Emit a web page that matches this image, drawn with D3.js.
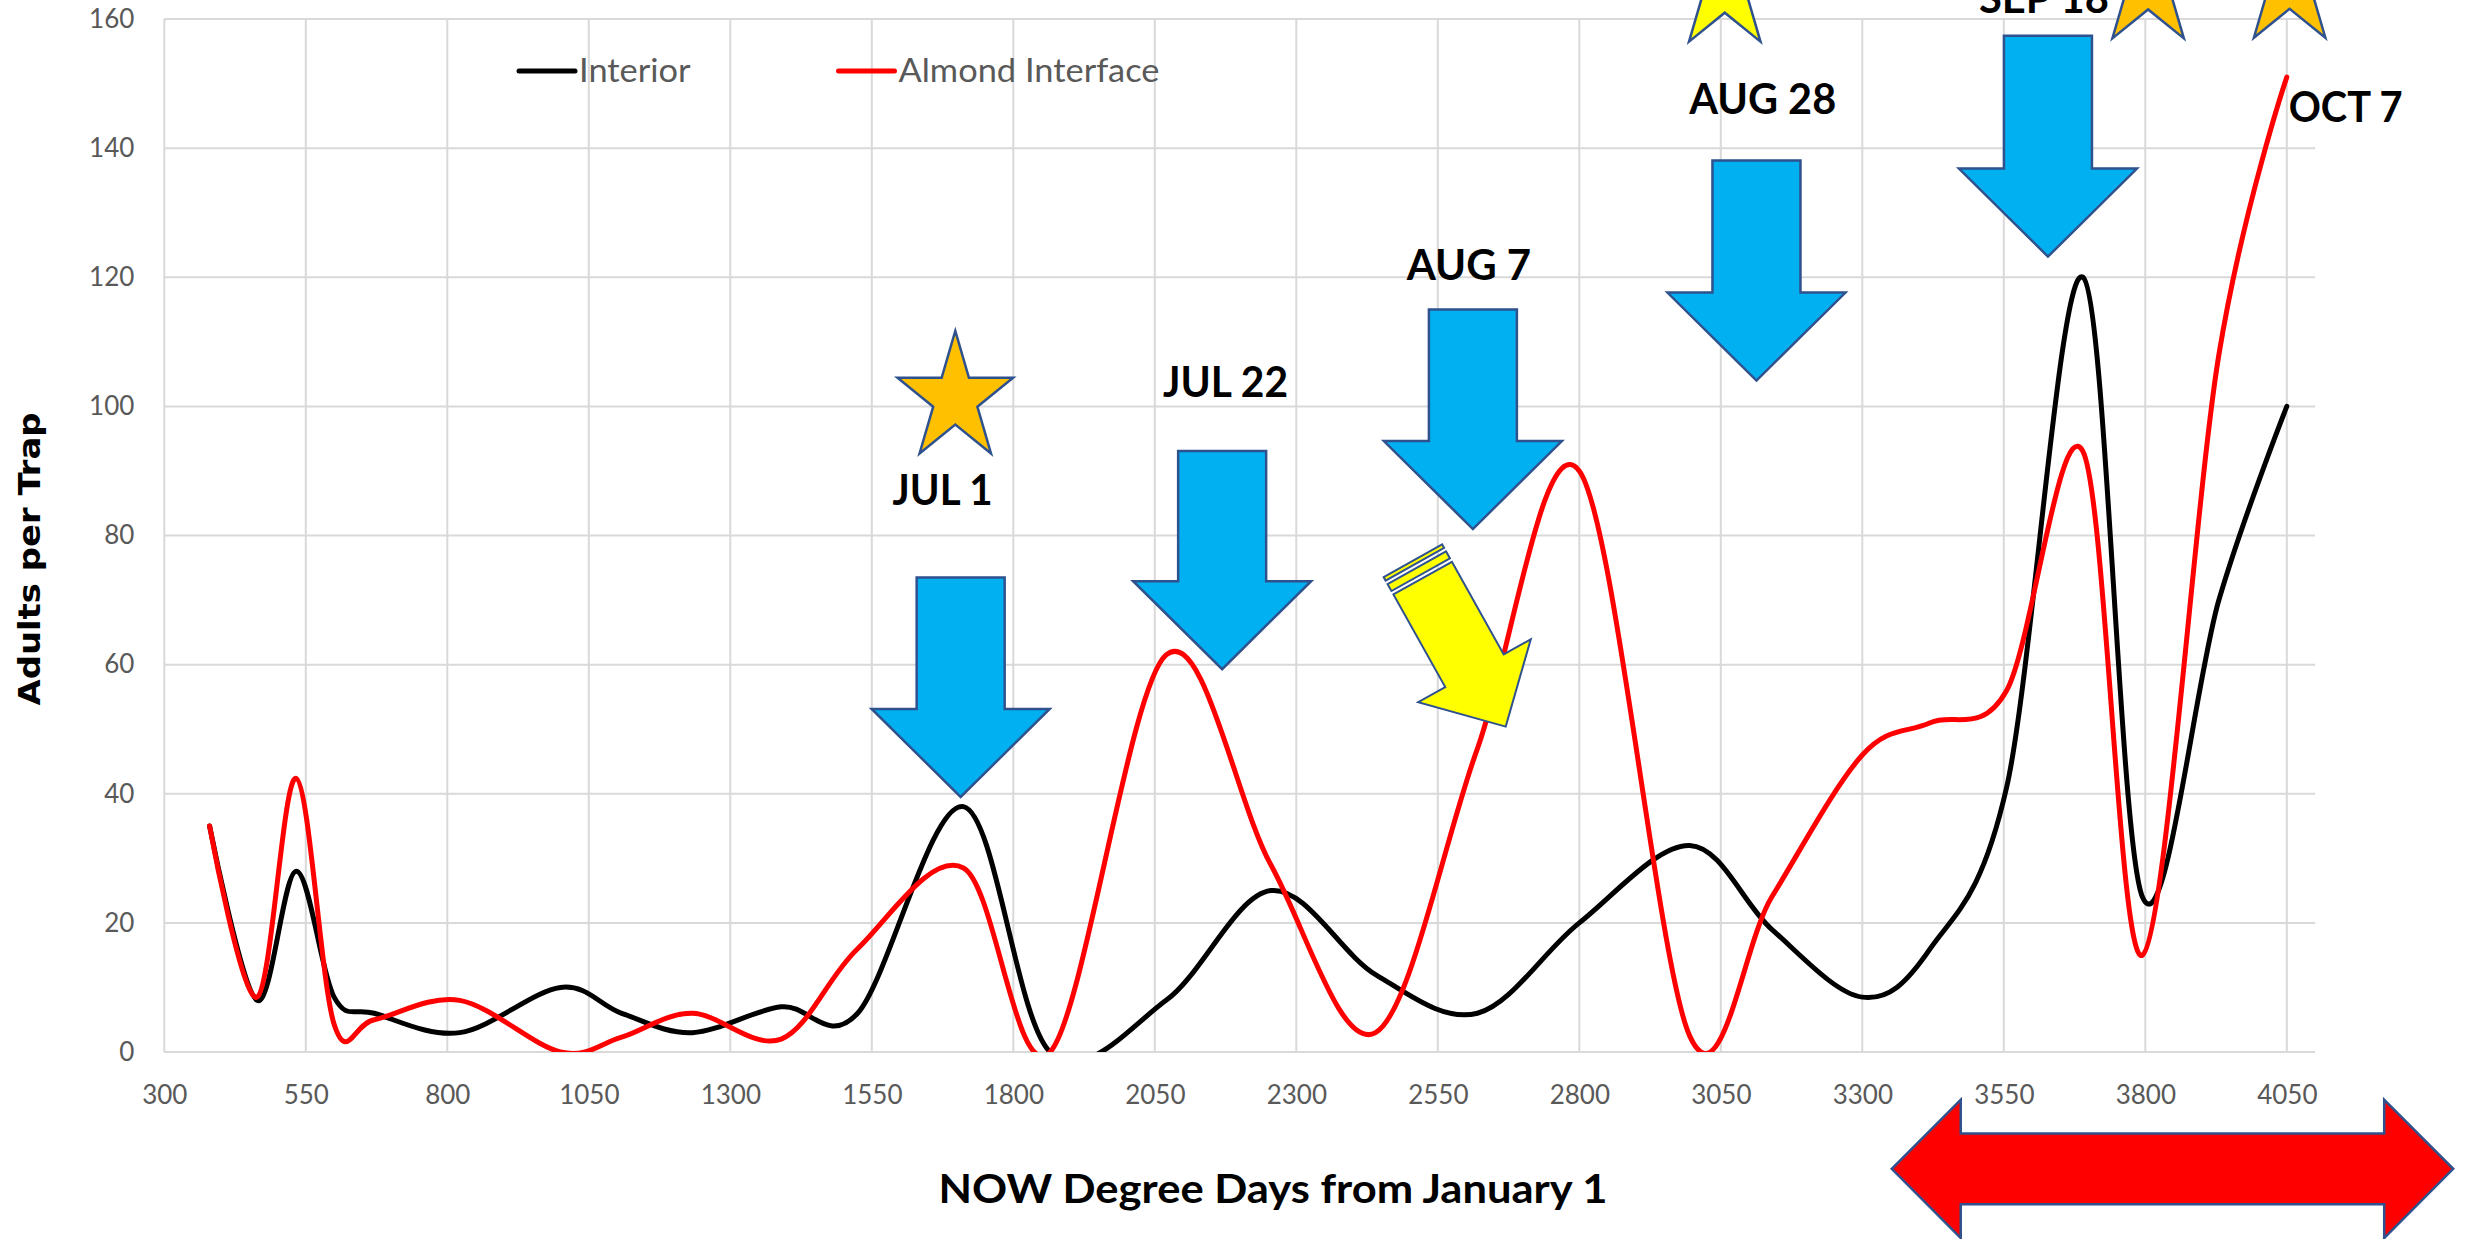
<!DOCTYPE html>
<html><head><meta charset="utf-8">
<script src="https://cdn.jsdelivr.net/npm/d3@7"></script>
<style>html,body{margin:0;padding:0;background:#fff;}svg{display:block;}</style>
</head><body>
<svg id="chart" width="2468" height="1239"></svg>
<script>
// ---------------- data ----------------
const xTicks = [300,550,800,1050,1300,1550,1800,2050,2300,2550,2800,3050,3300,3550,3800,4050];
const yTicks = [0,20,40,60,80,100,120,140,160];
const degreeDays      = [380,464,533,600,671,822,1000,1108,1233,1390,1525,1712,1865,2070,2255,2440,2620,2800,2995,3140,3300,3420,3555,3690,3795,3930,4050];
const interior        = [35, 8, 28, 8.5, 6, 3, 10, 6, 3, 7, 6, 38, 0, 8, 25, 12, 6, 20, 32, 19, 8.5, 16, 41, 120, 24, 70, 100];
const almondInterface = [35, 8.5, 42.4, 4.3, 5, 8, 0, 2.3, 6, 2, 16, 28.5, 0, 61.5, 29, 3, 47, 90, 2.5, 24, 46, 51, 56, 93, 15, 108, 151];
const seriesNames = ["Interior","Almond Interface"];
const xTitle = "NOW Degree Days from January 1";
const yTitle = "Adults per Trap";
// annotation anchors (in chart units: degree days / adults per trap)
const eventLabels  = ["JUL 1","JUL 22","AUG 7","AUG 28","SEP 18","OCT 7"];
const eventLabelX  = [1675, 2175, 2605, 3124, 3621, 4154];
const eventLabelY  = [84.7, 101.5, 119.5, 145.3, 160.9, 144.0];
const blueArrowX   = [1707, 2169, 2612, 3113, 3628];
const blueArrowTop = [73.5, 93.1, 115.0, 138.1, 157.4];
const blueArrowTip = [39.5, 59.3, 81.0, 104.0, 123.2];
const starX        = [1697.5, 3057, 3805, 4055];
const starBottom   = [92.7, 156.5, 157.0, 157.1];
const starColor    = ["#ffc000","#ffff00","#ffc000","#ffc000"];
const yellowArrowTail = [2506, 76.1];
const yellowArrowTip  = [2670, 50.4];
const redArrowX = [3352, 4344];
const redArrowY = -18.1;

// ---------------- layout ----------------
const svg = d3.select("#chart");
const x = d3.scaleLinear().domain([300,4100]).range([164.3, 2315.1]);
const y = d3.scaleLinear().domain([0,160]).range([1052, 19]);
const gridColor = "#d9d9d9";
const textGrey = "#595959";
const outline = "#2f528f";

function fit(sel, w){ sel.attr("textLength", w).attr("lengthAdjust","spacingAndGlyphs"); return sel; }

// gridlines
svg.append("g").selectAll("line").data(yTicks).join("line")
  .attr("x1", x(300)).attr("x2", x(4100))
  .attr("y1", d=>y(d)).attr("y2", d=>y(d))
  .attr("stroke", gridColor).attr("stroke-width", 2);
svg.append("g").selectAll("line").data(xTicks).join("line")
  .attr("x1", d=>x(d)).attr("x2", d=>x(d))
  .attr("y1", y(0)).attr("y2", y(160))
  .attr("stroke", gridColor).attr("stroke-width", 2);

// axes
const xAxis = svg.append("g").attr("transform",`translate(0,${y(0)})`)
  .call(d3.axisBottom(x).tickValues(xTicks).tickSize(0).tickPadding(34).tickFormat(d3.format("d")));
xAxis.select(".domain").remove();
xAxis.selectAll("text").attr("font-family","Lato, 'Open Sans', sans-serif").attr("font-size",26)
  .attr("fill",textGrey).attr("dy","0.71em");
const yAxis = svg.append("g").attr("transform",`translate(${x(300)},0)`)
  .call(d3.axisLeft(y).tickValues(yTicks).tickSize(0).tickPadding(30).tickFormat(d3.format("d")));
yAxis.select(".domain").remove();
yAxis.selectAll("text").attr("font-family","Lato, 'Open Sans', sans-serif").attr("font-size",26)
  .attr("fill",textGrey);

// axis titles
fit(svg.append("text").attr("x", 1273).attr("y", 1203).attr("text-anchor","middle")
  .attr("font-family","Lato, sans-serif").attr("font-weight","bold").attr("font-size",40)
  .attr("fill","#000").text(xTitle), 669);
fit(svg.append("text").attr("transform","translate(40,559) rotate(-90)").attr("text-anchor","middle")
  .attr("font-family","'DejaVu Sans', Verdana, sans-serif").attr("font-weight","bold").attr("font-size",31)
  .attr("fill","#000").text(yTitle), 293);

// series
svg.append("clipPath").attr("id","plotclip").append("rect")
  .attr("x", x(300)).attr("y", y(160)).attr("width", x(4100)-x(300)).attr("height", y(0)-y(160));
const line = d3.line().curve(d3.curveCardinal.tension(0)).x(d=>x(d[0])).y(d=>y(d[1]));
const series = [
  {name: seriesNames[0], values: interior, color: "#000000"},
  {name: seriesNames[1], values: almondInterface, color: "#ff0000"}
];
svg.append("g").attr("clip-path","url(#plotclip)").selectAll("path").data(series).join("path")
  .attr("d", s => line(degreeDays.map((dd,i)=>[dd, s.values[i]])))
  .attr("fill","none").attr("stroke", s=>s.color).attr("stroke-width",5)
  .attr("stroke-linejoin","round").attr("stroke-linecap","round");

// legend
const legendX = [519, 838.5];
const legendW = [111.6, 261];
series.forEach((s,i)=>{
  svg.append("line").attr("x1",legendX[i]).attr("x2",legendX[i]+56).attr("y1",71).attr("y2",71)
    .attr("stroke",s.color).attr("stroke-width",5).attr("stroke-linecap","round");
  fit(svg.append("text").attr("x",legendX[i]+60).attr("y",82.3)
    .attr("font-family","Lato, sans-serif").attr("font-size",33).attr("fill",textGrey).text(s.name), legendW[i]);
});

// ---------------- annotations ----------------
// blue down arrows
const shaftHalf = 44, headHalf = 89, headLen = 88;
blueArrowX.forEach((v,i)=>{
  const cx = x(v), t = y(blueArrowTop[i]), tip = y(blueArrowTip[i]), sh = tip - headLen;
  const pts = [[cx-shaftHalf,t],[cx+shaftHalf,t],[cx+shaftHalf,sh],[cx+headHalf,sh],[cx,tip],[cx-headHalf,sh],[cx-shaftHalf,sh]];
  svg.append("path").attr("d","M"+pts.map(p=>p.join(",")).join("L")+"Z")
    .attr("fill","#00b0f0").attr("stroke",outline).attr("stroke-width",2.5).attr("stroke-linejoin","miter");
});

// stars
const starW = 115.6, starH = 122.6;
function starPath(cx, bottom){
  const R = 1, r = 0.382;
  const pts = [];
  for(let k=0;k<10;k++){
    const a = -Math.PI/2 + k*Math.PI/5;
    const rr = k%2===0 ? R : r;
    pts.push([rr*Math.cos(a), rr*Math.sin(a)]);
  }
  const xmax = Math.cos(Math.PI/10), ymin = -1, ymax = Math.cos(Math.PI/5);
  const sx = starW/(2*xmax), sy = starH/(ymax-ymin);
  const top = bottom - starH;
  return "M"+pts.map(p=>[cx + p[0]*sx, top + (p[1]-ymin)*sy].join(",")).join("L")+"Z";
}
starX.forEach((v,i)=>{
  svg.append("path").attr("d", starPath(x(v), y(starBottom[i])))
    .attr("fill", starColor[i]).attr("stroke", outline).attr("stroke-width",2.5);
});

// yellow striped arrow
(function(){
  const x0 = x(yellowArrowTail[0]), y0 = y(yellowArrowTail[1]);
  const x1 = x(yellowArrowTip[0]), y1 = y(yellowArrowTip[1]);
  const L = Math.hypot(x1-x0, y1-y0);
  const ang = Math.atan2(y1-y0, x1-x0)*180/Math.PI;
  const hh = 64.5, sh = 33.5, hl = 64;
  const g = svg.append("g").attr("transform",`translate(${x0},${y0}) rotate(${ang})`);
  const fill = "#ffff00";
  g.append("rect").attr("x",0).attr("y",-sh).attr("width",4).attr("height",2*sh).attr("fill",fill).attr("stroke",outline).attr("stroke-width",2);
  g.append("rect").attr("x",8).attr("y",-sh).attr("width",8).attr("height",2*sh).attr("fill",fill).attr("stroke",outline).attr("stroke-width",2);
  const pts = [[20,-sh],[L-hl,-sh],[L-hl,-hh],[L,0],[L-hl,hh],[L-hl,sh],[20,sh]];
  g.append("path").attr("d","M"+pts.map(p=>p.join(",")).join("L")+"Z")
    .attr("fill",fill).attr("stroke",outline).attr("stroke-width",2);
})();

// red double arrow
(function(){
  const xl = x(redArrowX[0]), xr = x(redArrowX[1]), cy = y(redArrowY);
  const hh = 69.2, sh = 35.4, hl = 69;
  const pts = [[xl,cy],[xl+hl,cy-hh],[xl+hl,cy-sh],[xr-hl,cy-sh],[xr-hl,cy-hh],[xr,cy],[xr-hl,cy+hh],[xr-hl,cy+sh],[xl+hl,cy+sh],[xl+hl,cy+hh]];
  svg.append("path").attr("d","M"+pts.map(p=>p.join(",")).join("L")+"Z")
    .attr("fill","#ff0000").attr("stroke",outline).attr("stroke-width",2.5);
})();

// event labels
const labelW = [100, 125, 124.5, 147, 130, 114];
eventLabels.forEach((t,i)=>{
  fit(svg.append("text").attr("x", x(eventLabelX[i])).attr("y", y(eventLabelY[i])).attr("text-anchor","middle")
    .attr("font-family","Lato, sans-serif").attr("font-weight","bold").attr("font-size",42)
    .attr("fill","#000").text(t), labelW[i]);
});
</script>
</body></html>
